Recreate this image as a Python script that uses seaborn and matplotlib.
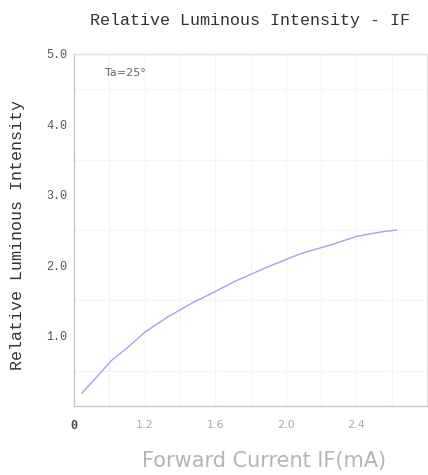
import matplotlib
matplotlib.use("Agg")
import matplotlib.pyplot as plt
import seaborn as sns
import pandas as pd

# Data
current_ma = [0.844, 0.938, 1.014, 1.108, 1.202, 1.334, 1.467, 1.580, 1.703,
              1.892, 2.080, 2.269, 2.402, 2.534, 2.628]
rel_intensity = [0.18, 0.44, 0.65, 0.84, 1.05, 1.27, 1.46, 1.60, 1.76,
                 1.97, 2.16, 2.30, 2.41, 2.47, 2.50]
x_ticks = [0.8, 1.2, 1.6, 2.0, 2.4]
x_tick_labels = ["0", "1.2", "1.6", "2.0", "2.4"]
y_ticks = [1.0, 2.0, 3.0, 4.0, 5.0]
y_tick_labels = ["1.0", "2.0", "3.0", "4.0", "5.0"]
x_grid = [1.0, 1.2, 1.4, 1.6, 1.8, 2.0, 2.2, 2.4, 2.6]
y_grid = [0.5, 1.5, 2.5, 3.5, 4.5]

df = pd.DataFrame({"I": current_ma, "L": rel_intensity})

sns.set_theme(style="white")
plt.rcParams["font.family"] = ["DejaVu Sans"]

fig = plt.figure(figsize=(4.28, 4.75), dpi=100)
ax = fig.add_axes([74 / 428, 1 - 406 / 475, (427 - 74) / 428, (406 - 54) / 475])

for gx in x_grid:
    ax.axvline(gx, color="#f4f4f4", lw=0.8, zorder=0)
for gy in y_grid:
    ax.axhline(gy, color="#f4f4f4", lw=0.8, zorder=0)

sns.lineplot(data=df, x="I", y="L", ax=ax, color="#a4a4e8", lw=1.0)

ax.set_xlim(0.8, 2.8)
ax.set_ylim(0, 5)
ax.set_xticks(x_ticks)
ax.set_xticklabels(x_tick_labels)
ax.set_yticks(y_ticks)
ax.set_yticklabels(y_tick_labels, family="Liberation Mono", fontsize=8.5, color="#555555")
for i, lbl in enumerate(ax.get_xticklabels()):
    if i == 0:
        lbl.set_family("Liberation Mono")
        lbl.set_color("#444444")
        lbl.set_fontsize(8.5)
        lbl.set_fontweight("bold")
    else:
        lbl.set_color("#aaaaaa")
        lbl.set_fontsize(8)
ax.tick_params(axis="both", length=0)
ax.tick_params(axis="x", pad=10)
ax.tick_params(axis="y", pad=5)

for s in ["left", "bottom"]:
    ax.spines[s].set_color("#c8c8c8")
    ax.spines[s].set_linewidth(1.0)
for s in ["top", "right"]:
    ax.spines[s].set_color("#e2e2e2")
    ax.spines[s].set_linewidth(1.0)

ax.set_xlabel("")
ax.set_ylabel("")

fig.text(250 / 428, 1 - 20 / 475, "Relative Luminous Intensity - IF",
         family="Liberation Mono", fontsize=12, color="#333333",
         ha="center", va="center")
fig.text(18 / 428, 1 - 235 / 475, "Relative Luminous Intensity",
         family="Liberation Mono", fontsize=12, color="#333333",
         ha="center", va="center", rotation=90)
fig.text(264 / 428, 1 - 461 / 475, "Forward Current IF(mA)",
         family="DejaVu Sans", fontsize=15, color="#b4b4b4",
         ha="center", va="center")
ax.text(105 / 428, 1 - 73 / 475, "Ta=25°", transform=fig.transFigure,
        fontsize=8, color="#666666", ha="left", va="center")

fig.savefig("out.png", dpi=100)
